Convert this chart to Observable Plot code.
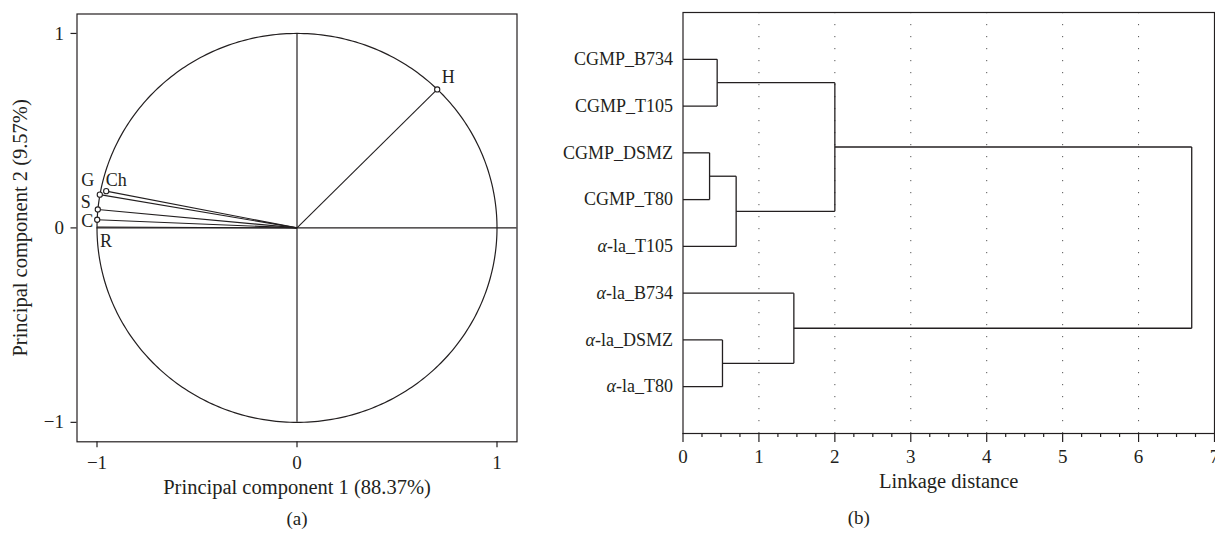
<!DOCTYPE html>
<html><head><meta charset="utf-8">
<script src="https://cdn.jsdelivr.net/npm/d3@7"></script>
<script src="https://cdn.jsdelivr.net/npm/@observablehq/plot@0.6"></script>
<style>
body{margin:0;background:#fff;overflow:hidden;}
#wrap{display:flex;width:1215px;height:539px;}
#wrap svg{display:block;overflow:visible;}
</style></head><body><div id="wrap"></div>
<script>
// ---- Panel (a): PCA loadings ----
const variables = ["H", "G", "Ch", "S", "C", "R"];
const pc1 = [0.701, -0.986, -0.954, -0.996, -0.999, -1.0];
const pc2 = [0.712, 0.171, 0.189, 0.095, 0.042, 0.005];
const pcTicks = [-1, 0, 1];

// ---- Panel (b): dendrogram ----
const leaves = ["CGMP_B734", "CGMP_T105", "CGMP_DSMZ", "CGMP_T80", "α-la_T105", "α-la_B734", "α-la_DSMZ", "α-la_T80"];
// merges: [nodeA, nodeB, linkage distance]; nodes 0-7 = leaves, 8+ = earlier merges
const mergeA = [0, 2, 9, 8, 6, 5, 11];
const mergeB = [1, 3, 4, 10, 7, 12, 13];
const mergeDist = [0.45, 0.35, 0.70, 2.0, 0.52, 1.46, 6.70];
const distTicks = [0, 1, 2, 3, 4, 5, 6, 7];

const ink = "#231f20";
const font = "'Liberation Serif', 'DejaVu Serif', serif";
const fmt = d => (d < 0 ? "\u2212" : "") + Math.abs(d);

const loadings = variables.map((name, i) => ({name, pc1: pc1[i], pc2: pc2[i]}));
// unit circle (reference shape)
const circle = d3.range(0, 361, 1).map(a => ({cx: Math.cos(a * Math.PI / 180), cy: Math.sin(a * Math.PI / 180)}));
const labelOffset = {H: [11, -12], G: [-12, -14], Ch: [10, -11], S: [-12, -7], C: [-10, 2], R: [9, 14]};

const left = Plot.plot({
  width: 540, height: 539,
  marginLeft: 76.5, marginRight: 23.5, marginTop: 13.5, marginBottom: 97.7,
  style: {fontFamily: font, fontSize: "18px", color: ink, background: "transparent"},
  x: {domain: [-1.1, 1.1]},
  y: {domain: [-1.1, 1.1]},
  marks: [
    Plot.frame({stroke: ink, strokeWidth: 1.2}),
    Plot.axisX(pcTicks, {tickSize: 6, tickPadding: 8, tickFormat: fmt, label: null, stroke: ink, fill: ink, strokeWidth: 1.2, fontSize: 19}),
    Plot.axisY(pcTicks, {tickSize: 6, tickPadding: 7, tickFormat: fmt, label: null, stroke: ink, fill: ink, strokeWidth: 1.2, fontSize: 19}),
    Plot.line(circle, {x: "cx", y: "cy", stroke: ink, strokeWidth: 1.2}),
    Plot.ruleY([0], {x1: -1, x2: 1.1, stroke: ink, strokeWidth: 1.2}),
    Plot.ruleX([0], {y1: -1, y2: 1, stroke: ink, strokeWidth: 1.2}),
    Plot.link(loadings, {x1: 0, y1: 0, x2: "pc1", y2: "pc2", stroke: ink, strokeWidth: 1.1}),
    Plot.dot(loadings.filter(d => d.name !== "R"), {x: "pc1", y: "pc2", r: 2.6, stroke: ink, strokeWidth: 1.1, fill: "white"}),
    ...loadings.map(d => Plot.text([d], {x: "pc1", y: "pc2", text: "name", dx: labelOffset[d.name][0], dy: labelOffset[d.name][1], fill: ink, fontSize: 18})),
    Plot.text(["Principal component 2 (9.57%)"], {frameAnchor: "left", dx: -56.5, rotate: -90, textAnchor: "middle", text: d => d, fill: ink, fontSize: 20.5}),
    Plot.text(["Principal component 1 (88.37%)"], {frameAnchor: "bottom", dy: 52, text: d => d, fill: ink, fontSize: 20.5}),
    Plot.text(["(a)"], {frameAnchor: "bottom", dy: 83, text: d => d, fill: ink, fontSize: 19})
  ]
});

// dendrogram geometry from merges
const pos = leaves.map((n, i) => ({x: 0, y: i + 1}));
const segs = [];
mergeA.forEach((a, k) => {
  const b = mergeB[k], h = mergeDist[k], A = pos[a], B = pos[b];
  segs.push({x1: A.x, y1: A.y, x2: h, y2: A.y});
  segs.push({x1: B.x, y1: B.y, x2: h, y2: B.y});
  segs.push({x1: h, y1: A.y, x2: h, y2: B.y});
  pos.push({x: h, y: (A.y + B.y) / 2});
});
const minorTicks = d3.range(0, 7.001, 0.25).filter(v => Math.abs(v - Math.round(v)) > 1e-6);

const right = Plot.plot({
  width: 675, height: 539,
  marginLeft: 142.5, marginRight: 1, marginTop: 12, marginBottom: 106,
  style: {fontFamily: font, fontSize: "18px", color: ink, background: "transparent", overflow: "visible"},
  x: {domain: [0, 7]},
  y: {domain: [0, 9], reverse: true},
  marks: [
    Plot.ruleX(distTicks.slice(1, 7), {stroke: "#555", strokeWidth: 1, strokeDasharray: "1.2,10.8"}),
    Plot.frame({stroke: ink, strokeWidth: 1.2}),
    Plot.axisX(distTicks, {tickSize: 9, tickPadding: 7, label: null, stroke: ink, fill: ink, strokeWidth: 1.2, fontSize: 19}),
    Plot.axisX(minorTicks, {tickSize: 4, tickFormat: () => "", label: null, stroke: ink, strokeWidth: 1.2}),
    Plot.axisY(leaves.map((n, i) => i + 1), {tickSize: 0, tickPadding: 10, tickFormat: v => leaves[v - 1], label: null, fill: ink, fontSize: 18}),
    Plot.link(segs, {x1: "x1", y1: "y1", x2: "x2", y2: "y2", stroke: ink, strokeWidth: 1.3}),
    Plot.text(["Linkage distance"], {frameAnchor: "bottom", dy: 54, text: d => d, fill: ink, fontSize: 20.5}),
    Plot.text(["(b)"], {frameAnchor: "bottom", dx: -90, dy: 90, text: d => d, fill: ink, fontSize: 19})
  ]
});

for (const svg of [left, right]) {
  svg.querySelectorAll("text").forEach(t => {
    if (t.textContent.startsWith("α")) {
      const rest = t.textContent.slice(1);
      t.textContent = "";
      const a = document.createElementNS("http://www.w3.org/2000/svg", "tspan");
      a.setAttribute("font-style", "italic");
      a.textContent = "α";
      t.appendChild(a);
      t.appendChild(document.createTextNode(rest));
    }
  });
}
document.getElementById("wrap").append(left, right);
</script></body></html>
